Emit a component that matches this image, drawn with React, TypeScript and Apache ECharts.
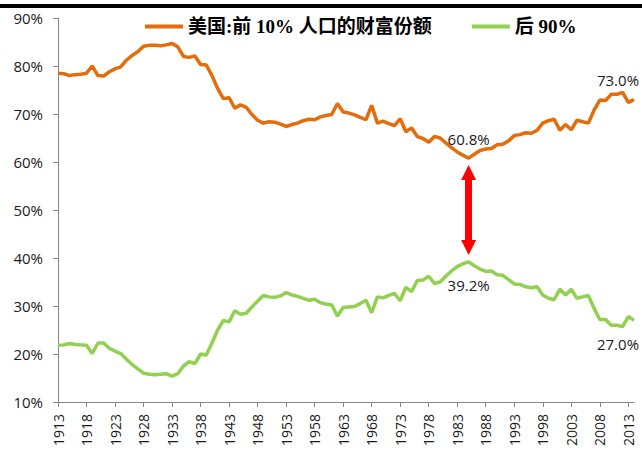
import { useEffect, useRef } from "react";
import * as echarts from "echarts";

// Years 1913 … 2014 (category axis)
const years: string[] = Array.from({ length: 102 }, (_, i) => String(1913 + i));

// 美国：前10%人口的财富份额 (%)
const top10: number[] = [
  78.5, 78.4, 78.0, 78.2, 78.3, 78.5, 80.0, 78.0, 77.9, 78.8, // 1913-1922
  79.4, 79.8, 81.2, 82.2, 83.0, 84.1, 84.3, 84.3, 84.2, 84.4, // 1923-1932
  84.7, 84.0, 82.0, 81.8, 82.1, 80.3, 80.2, 78.0, 75.3, 73.2, // 1933-1942
  73.4, 71.2, 71.9, 71.4, 69.9, 68.7, 68.1, 68.4, 68.3, 67.9, // 1943-1952
  67.4, 67.8, 68.1, 68.6, 68.9, 68.8, 69.4, 69.7, 69.9, 72.2, // 1953-1962
  70.4, 70.2, 69.8, 69.3, 68.8, 71.8, 68.1, 68.5, 68.0, 67.6, // 1963-1972
  69.0, 66.3, 67.1, 65.3, 64.9, 64.1, 65.3, 65.0, 64.0, 63.0, // 1973-1982
  62.1, 61.4, 60.8, 61.6, 62.4, 62.7, 62.8, 63.6, 63.7, 64.4, // 1983-1992
  65.5, 65.7, 66.1, 66.0, 66.6, 68.1, 68.6, 68.9, 66.6, 67.8, // 1993-2002
  66.7, 68.7, 68.4, 68.1, 70.8, 72.9, 72.8, 74.1, 74.1, 74.5, // 2003-2012
  72.4, 73.0, // 2013-2014
];

// 后90% (%)
const bottom90: number[] = [
  21.8, 21.9, 22.2, 22.0, 21.9, 21.8, 20.1, 22.3, 22.3, 21.2, // 1913-1922
  20.6, 20.1, 18.9, 17.8, 16.9, 16.0, 15.8, 15.7, 15.8, 15.9, // 1923-1932
  15.4, 15.9, 17.5, 18.4, 18.0, 20.0, 19.8, 22.3, 25.0, 27.0, // 1933-1942
  26.7, 29.0, 28.3, 28.5, 29.8, 31.0, 32.2, 31.9, 31.8, 32.1, // 1943-1952
  32.8, 32.3, 32.0, 31.6, 31.2, 31.4, 30.7, 30.4, 30.2, 27.9, // 1953-1962
  29.7, 29.8, 29.9, 30.5, 31.2, 28.6, 31.9, 31.7, 32.2, 32.6, // 1963-1972
  31.1, 33.9, 33.0, 35.3, 35.4, 36.2, 34.7, 35.0, 36.2, 37.3, // 1973-1982
  38.2, 38.8, 39.2, 38.4, 37.7, 37.2, 37.3, 36.5, 36.4, 35.5, // 1983-1992
  34.6, 34.5, 34.0, 33.8, 34.0, 32.3, 31.6, 31.3, 33.5, 32.3, // 1993-2002
  33.5, 31.6, 31.9, 32.2, 29.5, 27.2, 27.2, 26.0, 26.0, 25.7, // 2003-2012
  27.8, 27.0, // 2013-2014
];

const seriesNames = ["美国:前 10% 人口的财富份额", "后 90%"];
const seriesColors = ["#E46C0A", "#92D050"];
const highlightYear = "1985";

const yMin = 10;
const yMax = 90;
const yInterval = 10;

export default function App() {
  const ref = useRef<HTMLDivElement>(null);

  useEffect(() => {
    if (!ref.current) return;
    const chart = echarts.init(ref.current, null, { renderer: "svg" });

    const hi = years.indexOf(highlightYear);
    const last = years.length - 1;
    const labelFont = {
      fontSize: 15,
      color: "#1a1a1a",
      fontFamily: "'Open Sans', sans-serif",
      formatter: (p: any) => Number(p.value).toFixed(1) + "%",
    };

    const buildData = (arr: number[], pos: "top" | "bottom", dist: number) =>
      arr.map((v, i) => {
        if (i === hi) {
          return { value: v, label: { show: true, position: pos, distance: dist, ...labelFont } };
        }
        if (i === last) {
          return {
            value: v,
            label: { show: true, position: pos, distance: dist, offset: [-16, 0], ...labelFont },
          };
        }
        return v;
      });

    chart.setOption({
      animation: false,
      backgroundColor: "#ffffff",
      graphic: [
        {
          type: "rect",
          left: 0,
          top: 4,
          shape: { width: 642, height: 4 },
          style: { fill: "#000000" },
          silent: true,
        },
      ],
      legend: {
        data: seriesNames,
        left: 140,
        top: 12,
        icon: "rect",
        itemWidth: 38,
        itemHeight: 4,
        itemGap: 40,
        textStyle: {
          fontFamily: "'Liberation Serif', 'Noto Sans CJK SC', serif",
          fontWeight: "bold",
          fontSize: 19,
          color: "#000000",
        },
      },
      grid: { left: 58, right: 8, top: 18, bottom: 53, containLabel: false },
      xAxis: {
        type: "category",
        data: years,
        boundaryGap: false,
        axisLine: { show: true, lineStyle: { color: "#868686", width: 1 } },
        axisTick: { show: true, interval: 4, length: 5, lineStyle: { color: "#868686" } },
        axisLabel: {
          interval: 4,
          rotate: 90,
          margin: 12,
          fontSize: 14,
          color: "#1a1a1a",
          fontFamily: "'Open Sans', sans-serif",
        },
        splitLine: { show: false },
      },
      yAxis: {
        type: "value",
        min: yMin,
        max: yMax,
        interval: yInterval,
        axisLine: { show: true, lineStyle: { color: "#868686", width: 1 } },
        axisTick: { show: true, length: 5, lineStyle: { color: "#868686" } },
        axisLabel: {
          formatter: "{value}%",
          margin: 15,
          fontSize: 15,
          color: "#1a1a1a",
          fontFamily: "'Open Sans', sans-serif",
        },
        splitLine: { show: false },
      },
      series: [
        {
          name: seriesNames[0],
          type: "line",
          data: buildData(top10, "top", 12),
          showSymbol: true,
          symbol: "circle",
          symbolSize: 0,
          lineStyle: { color: seriesColors[0], width: 3.5 },
          itemStyle: { color: seriesColors[0] },
          emphasis: { disabled: true },
          silent: true,
          z: 3,
          markLine: {
            silent: true,
            symbol: ["triangle", "triangle"],
            symbolSize: [15, 15],
            lineStyle: { color: "#FF0000", width: 7, type: "solid" },
            label: { show: false },
            emphasis: { disabled: true },
            data: [
              [
                { coord: [highlightYear, top10[hi] - 3] },
                { coord: [highlightYear, bottom90[hi] + 3] },
              ],
            ],
          },
        },
        {
          name: seriesNames[1],
          type: "line",
          data: buildData(bottom90, "bottom", 16),
          showSymbol: true,
          symbol: "circle",
          symbolSize: 0,
          lineStyle: { color: seriesColors[1], width: 3.5 },
          itemStyle: { color: seriesColors[1] },
          emphasis: { disabled: true },
          silent: true,
          z: 3,
        },
      ],
    });

    return () => chart.dispose();
  }, []);

  return (
    <div
      ref={ref}
      style={{ position: "fixed", left: 0, top: 0, width: 642, height: 455, background: "#fff" }}
    />
  );
}
